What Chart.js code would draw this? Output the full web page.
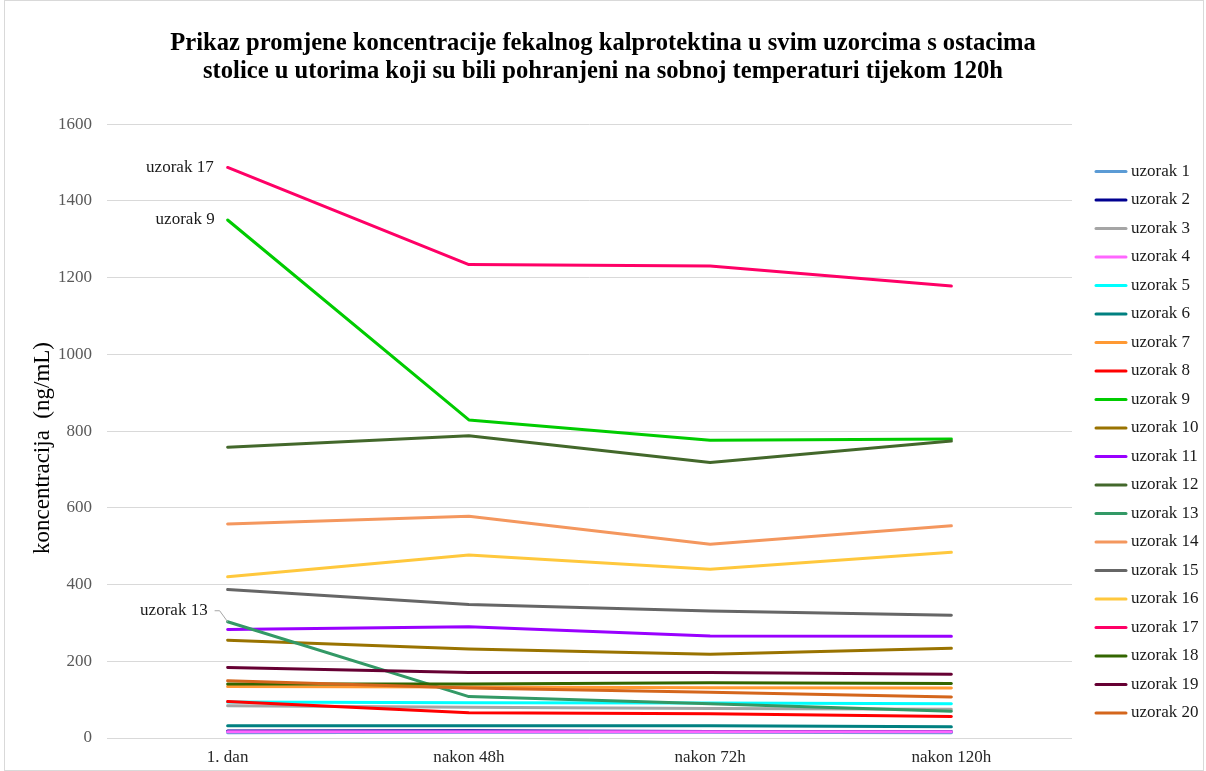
<!DOCTYPE html>
<html>
<head>
<meta charset="utf-8">
<title>Fekalni kalprotektin</title>
<script src="https://cdn.jsdelivr.net/npm/chart.js@4.4.0/dist/chart.umd.min.js"></script>
<style>
    html, body { margin: 0; padding: 0; background: #fff; }
    #wrap { width: 1206px; height: 771px; position: relative; }
</style>
</head>
<body>
<div id="wrap"><canvas id="chart" width="1206" height="771"></canvas></div>
<script>
/* ── Data ── */
const categories = ['1. dan', 'nakon 48h', 'nakon 72h', 'nakon 120h'];
const sampleNames = [
    'uzorak 1', 'uzorak 2', 'uzorak 3', 'uzorak 4', 'uzorak 5',
    'uzorak 6', 'uzorak 7', 'uzorak 8', 'uzorak 9', 'uzorak 10',
    'uzorak 11', 'uzorak 12', 'uzorak 13', 'uzorak 14', 'uzorak 15',
    'uzorak 16', 'uzorak 17', 'uzorak 18', 'uzorak 19', 'uzorak 20'
];
const s1 = [14, 15, 15, 14];
const s2 = [18, 19, 17, 17];
const s3 = [84, 80, 77, 75];
const s4 = [16, 16, 16, 16];
const s5 = [94, 92, 91, 89];
const s6 = [32, 32, 32, 29];
const s7 = [134, 133, 131, 130];
const s8 = [95, 66, 63, 56];
const s9 = [1350, 829, 776, 779];
const s10 = [255, 232, 218, 234];
const s11 = [283, 290, 266, 265];
const s12 = [758, 788, 718, 774];
const s13 = [303, 108, 89, 70];
const s14 = [558, 578, 505, 553];
const s15 = [387, 348, 331, 320];
const s16 = [420, 477, 440, 484];
const s17 = [1487, 1234, 1230, 1178];
const s18 = [141, 141, 144, 142];
const s19 = [184, 171, 171, 166];
const s20 = [149, 130, 119, 107];
const seriesValues = [s1, s2, s3, s4, s5, s6, s7, s8, s9, s10,
                      s11, s12, s13, s14, s15, s16, s17, s18, s19, s20];
const yTicks = [0, 200, 400, 600, 800, 1000, 1200, 1400, 1600];

/* ── Styles ── */
const colors = [
    '#5B9BD5', '#000090', '#A5A5A5', '#FF66FF', '#00FFFF',
    '#008080', '#FF9933', '#FF0000', '#00CC00', '#997300',
    '#9900FF', '#43682B', '#339966', '#F4975E', '#666666',
    '#FFC83D', '#FF0066', '#336600', '#660033', '#D4661C'
];
const SERIF = '"Liberation Serif", "Times New Roman", serif';
const yTitle = 'koncentracija  (ng/mL)';

// labels next to first points: [dataset index, text, dx, dy, leader]
const pointLabels = [
    [16, 'uzorak 17', -14, 0, false],
    [8, 'uzorak 9', -13, 0, false],
    [12, 'uzorak 13', -20, -11, true]
];

/* ── Plugins ── */
const frame = {
    id: 'frame',
    beforeDraw(chart) {
        const c = chart.ctx;
        c.save();
        c.fillStyle = '#fff';
        c.fillRect(0, 0, chart.width, chart.height);
        c.strokeStyle = '#d9d9d9';
        c.lineWidth = 1;
        c.strokeRect(4.5, 0.5, chart.width - 7, chart.height - 1);

        // vertical axis title
        c.translate(43, 448);
        c.rotate(-Math.PI / 2);
        c.font = '23px ' + SERIF;
        c.fillStyle = '#000';
        c.textAlign = 'center';
        c.textBaseline = 'middle';
        c.fillText(yTitle, 0, 0);
        c.restore();
    }
};

const sideLegend = {
    id: 'sideLegend',
    afterDraw(chart) {
        const c = chart.ctx;
        const x0 = 1096, x1 = 1126, top = 171.5, step = 28.5;
        c.save();
        c.font = '17px ' + SERIF;
        c.textBaseline = 'middle';
        c.textAlign = 'left';
        chart.data.datasets.forEach((ds, i) => {
            const y = top + i * step;
            c.strokeStyle = ds.borderColor;
            c.lineWidth = 3;
            c.lineCap = 'round';
            c.beginPath();
            c.moveTo(x0, y);
            c.lineTo(x1, y);
            c.stroke();
            c.fillStyle = '#1a1a1a';
            c.fillText(ds.label, x1 + 5, y);
        });
        c.restore();
    }
};

const firstPointLabels = {
    id: 'firstPointLabels',
    afterDatasetsDraw(chart) {
        const c = chart.ctx;
        c.save();
        c.font = '17px ' + SERIF;
        c.textBaseline = 'middle';
        c.textAlign = 'right';
        c.fillStyle = '#1a1a1a';
        pointLabels.forEach(([idx, text, dx, dy, leader]) => {
            const pt = chart.getDatasetMeta(idx).data[0];
            const tx = pt.x + dx, ty = pt.y + dy;
            c.fillText(text, tx, ty);
            if (leader) {
                c.strokeStyle = '#A6A6A6';
                c.lineWidth = 1;
                c.beginPath();
                c.moveTo(tx + 7, ty);
                c.lineTo(tx + 12, ty);
                c.lineTo(pt.x, pt.y);
                c.stroke();
            }
        });
        c.restore();
    }
};

/* ── Chart ── */
new Chart(document.getElementById('chart'), {
    type: 'line',
    data: {
        labels: categories,
        datasets: seriesValues.map((vals, i) => ({
            label: sampleNames[i],
            data: vals,
            order: seriesValues.length - i, // later series on top, like the original
            borderColor: colors[i],
            backgroundColor: colors[i],
            borderWidth: 3,
            borderCapStyle: 'round',
            borderJoinStyle: 'round',
            pointRadius: 0,
            tension: 0
        }))
    },
    options: {
        responsive: false,
        animation: false,
        layout: { padding: 0 },
        plugins: {
            legend: { display: false },
            tooltip: { enabled: false },
            title: {
                display: true,
                text: [
                    'Prikaz promjene koncentracije fekalnog kalprotektina u svim uzorcima s ostacima',
                    'stolice u utorima koji su bili pohranjeni na sobnoj temperaturi tijekom 120h'
                ],
                color: '#000',
                font: { family: SERIF, size: 24.6, weight: 'bold', lineHeight: 1.14 },
                padding: { top: 30, bottom: 38 }
            }
        },
        scales: {
            x: {
                offset: true,
                grid: { display: false, drawTicks: false },
                border: { display: false },
                ticks: {
                    color: '#262626',
                    font: { family: SERIF, size: 17 },
                    padding: 9,
                    maxRotation: 0
                },
                afterFit(scale) { scale.height = 33; }
            },
            y: {
                min: yTicks[0],
                max: yTicks[yTicks.length - 1],
                afterBuildTicks(scale) {
                    scale.ticks = yTicks.map(v => ({ value: v }));
                },
                grid: { color: '#d9d9d9', lineWidth: 1, drawTicks: false },
                border: { display: false },
                ticks: {
                    color: '#595959',
                    font: { family: SERIF, size: 17 },
                    padding: 15,
                    callback: (v) => String(v)
                },
                afterFit(scale) { scale.width = 107; }
            },
            // empty right-hand strip that holds the legend
            legendSpace: {
                position: 'right',
                display: true,
                grid: { display: false, drawTicks: false },
                border: { display: false },
                ticks: { display: false },
                afterFit(scale) { scale.width = 134; }
            }
        }
    },
    plugins: [frame, firstPointLabels, sideLegend]
});
</script>
</body>
</html>
